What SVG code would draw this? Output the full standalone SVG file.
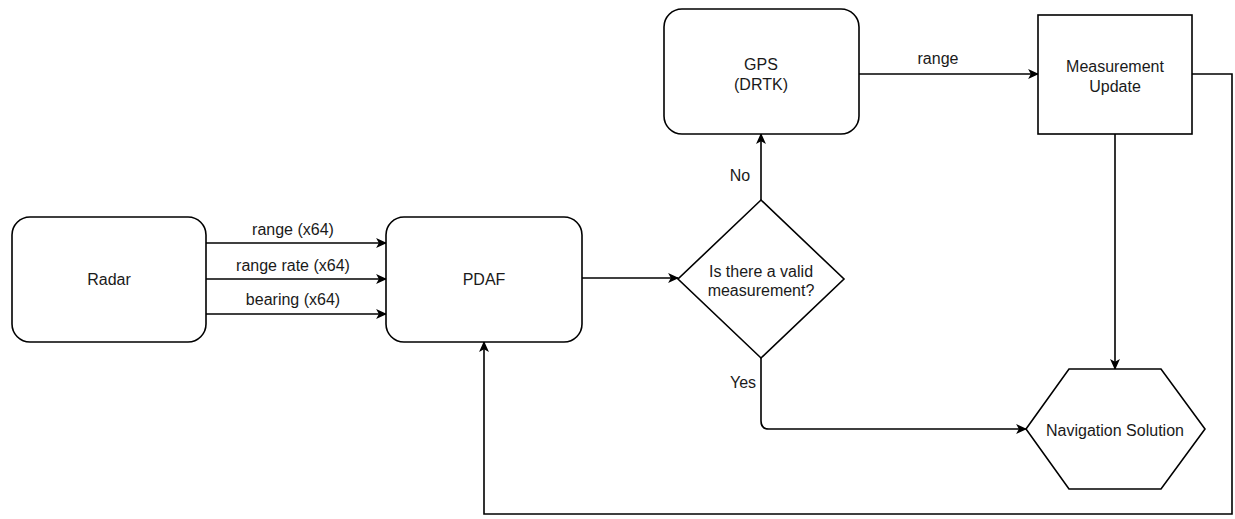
<svg xmlns="http://www.w3.org/2000/svg" width="1235" height="519" viewBox="0 0 1235 519">
<defs>
<marker id="arr" viewBox="0 0 10 10" refX="9" refY="5" markerWidth="11" markerHeight="11" markerUnits="userSpaceOnUse" orient="auto">
<path d="M0,0.5 L10,5 L0,9.5 L2.5,5 Z" fill="#000"/>
</marker>
</defs>
<style>
.n{fill:#fff;stroke:#000;stroke-width:1.6}
.c{fill:none;stroke:#000;stroke-width:1.6;marker-end:url(#arr)}
text{font-family:"Liberation Sans",Arial,sans-serif;font-size:16px;fill:#1a1a1a;text-anchor:middle;dominant-baseline:central}
</style>
<rect width="1235" height="519" fill="#fff"/>
<g id="connectors">
<path class="c" d="M206,243 H386"/>
<path class="c" d="M206,279 H386"/>
<path class="c" d="M206,314 H386"/>
<path class="c" d="M582,278 H678"/>
<path class="c" d="M761,200 V134"/>
<path class="c" d="M859,74 H1038"/>
<path class="c" d="M1115,134 V369"/>
<path class="c" d="M761,358 V421 Q761,429 769,429 H1026"/>
<path class="c" d="M1192,74 H1232 V514 H484 V342"/>
<text x="293" y="229">range (x64)</text>
<text x="293" y="265">range rate (x64)</text>
<text x="293" y="299">bearing (x64)</text>
<text x="938" y="58">range</text>
<text x="740" y="175">No</text>
<text x="743" y="382">Yes</text>
</g>
<g id="radar">
<rect class="n" x="12" y="217" width="194" height="125" rx="18"/>
<text x="109" y="279">Radar</text>
</g>
<g id="pdaf">
<rect class="n" x="386" y="217" width="196" height="125" rx="18"/>
<text x="484" y="279">PDAF</text>
</g>
<g id="decision">
<polygon class="n" points="761,200 844,279 761,358 678,279"/>
<text x="761" y="271">Is there a valid</text>
<text x="761" y="290">measurement?</text>
</g>
<g id="gps">
<rect class="n" x="664" y="9" width="195" height="125" rx="18"/>
<text x="761" y="64">GPS</text>
<text x="761" y="84">(DRTK)</text>
</g>
<g id="measurement-update">
<rect class="n" x="1038" y="15" width="154" height="119"/>
<text x="1115" y="66">Measurement</text>
<text x="1115" y="86">Update</text>
</g>
<g id="navigation-solution">
<polygon class="n" points="1026,429 1069,369 1161,369 1205,429 1161,489 1069,489"/>
<text x="1115" y="430">Navigation Solution</text>
</g>
</svg>
